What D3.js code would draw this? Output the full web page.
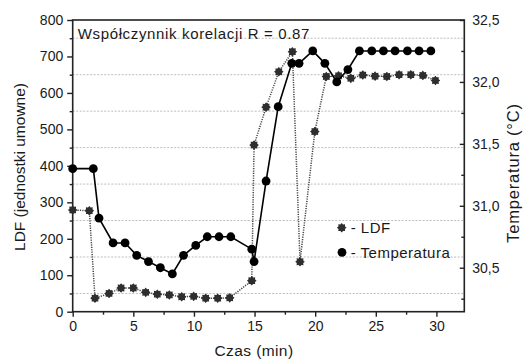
<!DOCTYPE html>
<html>
<head>
<meta charset="utf-8">
<title>LDF i temperatura</title>
<script src="https://cdn.jsdelivr.net/npm/d3@7/dist/d3.min.js"></script>
<style>
html, body { margin: 0; padding: 0; background: #fff; }
svg { display: block; font-family: "Liberation Sans", Arial, sans-serif; }
text { fill: #1a1a1a; }
</style>
</head>
<body>
<div id="chart"></div>
<script>
// dane
const timeLDF = [0, 1.37, 1.84, 3.0, 3.99, 5.0, 6.02, 6.98, 7.97, 8.99, 9.98, 10.97, 11.96, 12.95,
  14.77, 14.96, 15.95, 17.0, 18.12, 18.75, 19.97, 20.92, 21.93, 22.94, 23.93, 24.94, 25.91,
  26.92, 27.89, 28.88, 29.92];
const ldf = [279, 277, 37, 50, 65, 65, 53, 48, 46, 41, 42, 37, 37, 38,
  85, 457, 561, 658, 713, 137, 494, 645, 647, 640, 649, 646, 645, 650, 650, 648, 634];

const timeTemp = [0, 1.7, 2.17, 3.33, 4.32, 5.28, 6.25, 7.23, 8.22, 9.14, 10.15, 11.1, 12.07, 13.04,
  14.77, 14.96, 15.95, 16.95, 18.07, 18.67, 19.8, 20.8, 21.78, 22.7, 23.65, 24.67, 25.63,
  26.59, 27.61, 28.57, 29.54];
const temp = [31.3, 31.3, 30.9, 30.7, 30.7, 30.6, 30.55, 30.5, 30.45, 30.6, 30.68, 30.75, 30.75, 30.75,
  30.65, 30.55, 31.2, 31.8, 32.15, 32.15, 32.25, 32.15, 32.0, 32.1, 32.25, 32.25, 32.25,
  32.25, 32.25, 32.25, 32.25];

const xTicks = [0, 5, 10, 15, 20, 25, 30];
const yTicks = [0, 100, 200, 300, 400, 500, 600, 700, 800];
const y2Ticks = [30.5, 31.0, 31.5, 32.0, 32.5];
const gridValues = [50, 150, 250, 350, 450, 550, 650, 750];

const W = 523, H = 360;
const L = 72.7, R = 464.3, T = 20, B = 311.7;

const svg = d3.select("#chart").append("svg").attr("width", W).attr("height", H);

const x = d3.scaleLinear().domain([0, 32.3]).range([L, R]);
const y = d3.scaleLinear().domain([0, 800]).range([B, T]);
const y2 = d3.scaleLinear().domain([30.145, 32.5]).range([B, T]);

// linie siatki
svg.append("g").selectAll("line").data(gridValues).enter().append("line")
  .attr("x1", L).attr("x2", R)
  .attr("y1", d => y(d)).attr("y2", d => y(d))
  .attr("stroke", "#bdbdbd").attr("stroke-width", 1).attr("stroke-dasharray", "2,1.5");

// osie
const fmtComma = d => d3.format(".1f")(d).replace(".", ",");

function styleAxis(g) {
  g.select(".domain").remove();
  g.selectAll(".tick line").attr("stroke", "#222").attr("stroke-width", 1.4);
  g.selectAll(".tick text").attr("font-size", 14).attr("fill", "#1a1a1a");
}

// male kreski
svg.append("g").attr("transform", `translate(${L},0)`)
  .call(d3.axisLeft(y).tickValues(gridValues).tickSize(3).tickFormat(""))
  .call(styleAxis);
svg.append("g").attr("transform", `translate(0,${B})`)
  .call(d3.axisBottom(x).tickValues([2.5, 7.5, 12.5, 17.5, 22.5, 27.5]).tickSize(3).tickFormat(""))
  .call(styleAxis);
svg.append("g").attr("transform", `translate(${R},0)`)
  .call(d3.axisLeft(y2).tickValues([30.25, 30.75, 31.25, 31.75, 32.25]).tickSize(3).tickFormat(""))
  .call(styleAxis);

svg.append("g").attr("transform", `translate(${L},0)`)
  .call(d3.axisLeft(y).tickValues(yTicks).tickSize(5.5).tickPadding(4))
  .call(styleAxis);
svg.append("g").attr("transform", `translate(0,${B})`)
  .call(d3.axisBottom(x).tickValues(xTicks).tickSize(5).tickPadding(4))
  .call(styleAxis);
const rAx = svg.append("g").attr("transform", `translate(${R},0)`)
  .call(d3.axisRight(y2).tickValues(y2Ticks).tickFormat(fmtComma).tickSize(0).tickPadding(8))
  .call(styleAxis);
rAx.selectAll(".tick").append("line").attr("x1", -4.5).attr("x2", 0)
  .attr("stroke", "#222").attr("stroke-width", 1.4);

// ramka
svg.append("rect").attr("x", L).attr("y", T).attr("width", R - L).attr("height", B - T)
  .attr("fill", "none").attr("stroke", "#222").attr("stroke-width", 1.6);

// symbol gwiazdki
function starPath(ro, ri, n) {
  const p = d3.path();
  for (let i = 0; i < n * 2; i++) {
    const a = Math.PI * i / n - Math.PI / 2;
    const r = i % 2 === 0 ? ro : ri;
    if (i === 0) p.moveTo(r * Math.cos(a), r * Math.sin(a));
    else p.lineTo(r * Math.cos(a), r * Math.sin(a));
  }
  p.closePath();
  return p.toString();
}
const star = starPath(4.8, 3.5, 8);

// LDF
const ldfData = timeLDF.map((t, i) => ({ t: t, v: ldf[i] }));
svg.append("path").datum(ldfData)
  .attr("d", d3.line().x(d => x(d.t)).y(d => y(d.v)))
  .attr("fill", "none").attr("stroke", "#444").attr("stroke-width", 1.5)
  .attr("stroke-dasharray", "1.2,1.2");
svg.append("g").selectAll("path").data(ldfData).enter().append("path")
  .attr("d", star)
  .attr("transform", d => `translate(${x(d.t)},${y(d.v)})`)
  .attr("fill", "#2e2e2e");

// temperatura
const tData = timeTemp.map((t, i) => ({ t: t, v: temp[i] }));
svg.append("path").datum(tData)
  .attr("d", d3.line().x(d => x(d.t)).y(d => y2(d.v)))
  .attr("fill", "none").attr("stroke", "#000").attr("stroke-width", 1.6);
svg.append("g").selectAll("circle").data(tData).enter().append("circle")
  .attr("cx", d => x(d.t)).attr("cy", d => y2(d.v)).attr("r", 4.4)
  .attr("fill", "#000");

// teksty
svg.append("text").attr("x", 77.7).attr("y", 38.5)
  .attr("font-size", 15).attr("letter-spacing", 0.65)
  .text("Współczynnik korelacji R = 0.87");

svg.append("text").attr("x", 254).attr("y", 356).attr("text-anchor", "middle")
  .attr("font-size", 15.5).attr("letter-spacing", 0.4)
  .text("Czas (min)");

svg.append("text").attr("transform", "translate(24.5,167) rotate(-90)")
  .attr("text-anchor", "middle").attr("font-size", 15.5)
  .text("LDF (jednostki umowne)");

svg.append("text").attr("transform", "translate(518.5,173) rotate(-90)")
  .attr("text-anchor", "middle").attr("font-size", 16.5).attr("letter-spacing", 0.8)
  .text("Temperatura (°C)");

// legenda
const leg = svg.append("g");
leg.append("path").attr("d", star).attr("transform", "translate(341.7,227.7)").attr("fill", "#2e2e2e");
leg.append("text").attr("x", 350.7).attr("y", 233.3).attr("font-size", 15).attr("letter-spacing", 0.5)
  .text("- LDF");
leg.append("circle").attr("cx", 342).attr("cy", 252.3).attr("r", 4.4).attr("fill", "#000");
leg.append("text").attr("x", 350.7).attr("y", 257.5).attr("font-size", 15).attr("letter-spacing", 0.5)
  .text("- Temperatura");
</script>
</body>
</html>
